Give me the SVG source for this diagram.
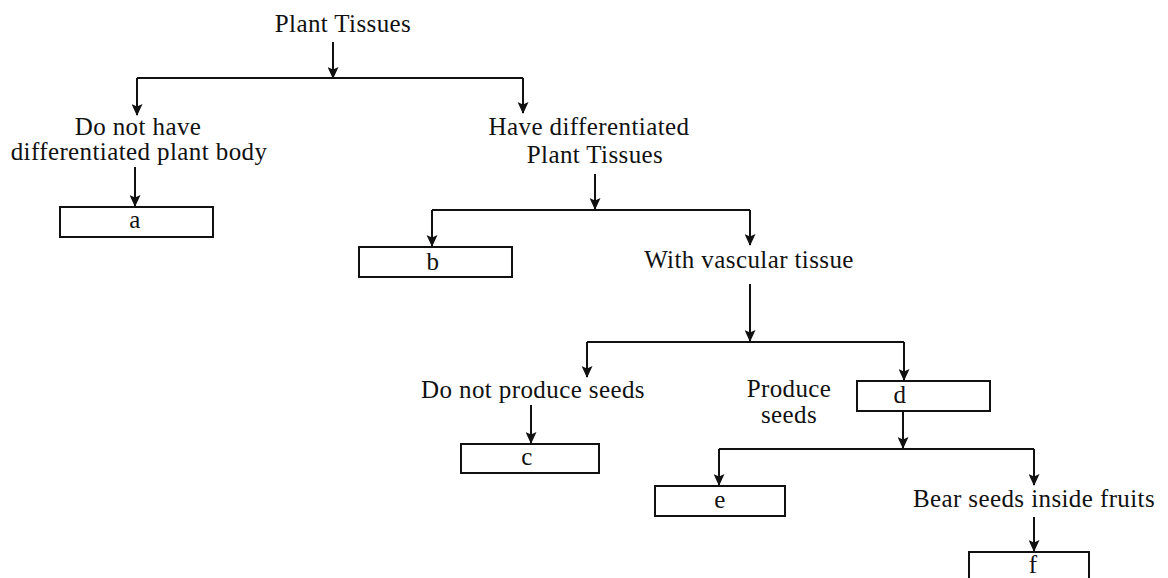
<svg xmlns="http://www.w3.org/2000/svg" width="1168" height="578" viewBox="0 0 1168 578">
<style>
text{font-family:"Liberation Serif","Times New Roman",serif;font-size:25px;letter-spacing:0.4px;fill:#111;text-anchor:middle}
.box{fill:#fff;stroke:#111;stroke-width:2}
.ln{fill:none;stroke:#111;stroke-width:2}
.ar{fill:none;stroke:#111;stroke-width:2;marker-end:url(#ah)}
</style>
<defs>
<marker id="ah" viewBox="0 0 12 11" refX="11" refY="5.5" markerWidth="12" markerHeight="11" markerUnits="userSpaceOnUse" orient="auto">
<path d="M0,0 L12,5.5 L0,11 L2.5,5.5 Z" fill="#111"/>
</marker>
</defs>
<rect width="1168" height="578" fill="#fff"/>
<g id="connectors">
<path class="ar" d="M333,42 V78"/>
<path class="ln" d="M137,78 H523"/>
<path class="ar" d="M137,78 V115"/>
<path class="ar" d="M523,78 V113"/>
<path class="ar" d="M135,167 V206"/>
<path class="ar" d="M595,174 V209"/>
<path class="ln" d="M432,210 H750"/>
<path class="ar" d="M432,210 V246"/>
<path class="ar" d="M750,210 V245"/>
<path class="ar" d="M750,284 V341"/>
<path class="ln" d="M587,342 H904"/>
<path class="ar" d="M587,342 V377"/>
<path class="ar" d="M904,342 V380"/>
<path class="ar" d="M531,405 V443"/>
<path class="ar" d="M903,411 V448"/>
<path class="ln" d="M719,449 H1034"/>
<path class="ar" d="M719,449 V485"/>
<path class="ar" d="M1034,449 V485"/>
<path class="ar" d="M1034,517 V551"/>
</g>
<g id="n-root"><text x="343" y="32">Plant Tissues</text></g>
<g id="n-nodiff"><text x="138" y="135">Do not have</text><text x="139" y="160">differentiated plant body</text></g>
<g id="n-diff"><text x="589" y="135">Have differentiated</text><text x="595" y="163">Plant Tissues</text></g>
<g id="n-a"><rect class="box" x="60" y="207" width="153" height="30"/><text x="135" y="228">a</text></g>
<g id="n-b"><rect class="box" x="359" y="247" width="153" height="30"/><text x="433" y="270">b</text></g>
<g id="n-vasc"><text x="749" y="268">With vascular tissue</text></g>
<g id="n-noseeds"><text x="533" y="398">Do not produce seeds</text></g>
<g id="n-seeds"><text x="789" y="397">Produce</text><text x="789" y="423">seeds</text></g>
<g id="n-c"><rect class="box" x="461" y="444" width="138" height="29"/><text x="527" y="465">c</text></g>
<g id="n-d"><rect class="box" x="857" y="381" width="133" height="30"/><text x="900" y="403">d</text></g>
<g id="n-e"><rect class="box" x="655" y="486" width="130" height="30"/><text x="720" y="508">e</text></g>
<g id="n-fruits"><text x="1034" y="507">Bear seeds inside fruits</text></g>
<g id="n-f"><rect class="box" x="969" y="552" width="120" height="30"/><text x="1033" y="573">f</text></g>
</svg>
